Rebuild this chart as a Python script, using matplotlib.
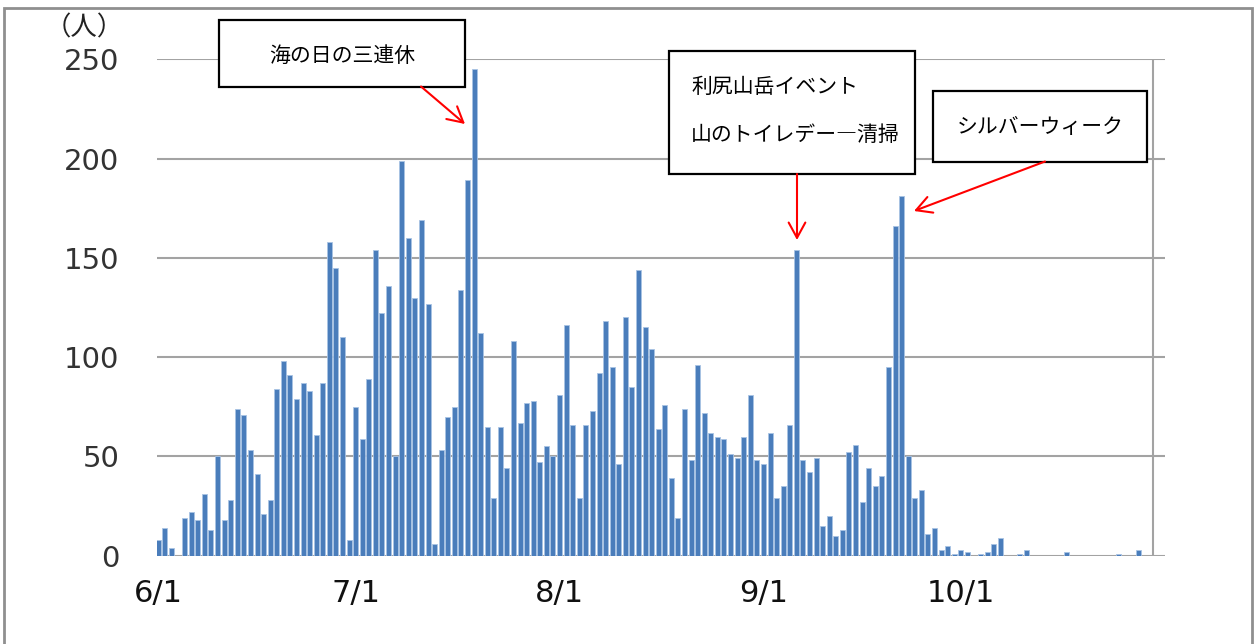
import matplotlib
matplotlib.use("Agg")
import matplotlib.pyplot as plt
from matplotlib.patches import Rectangle
import numpy as np
import pandas as pd

# ---------------- data ----------------
start_date = "2015-06-01"
june = [8, 14, 4, 0, 19, 22, 18, 31, 13, 50, 18, 28, 74, 71, 53, 41, 21, 28, 84, 98,
        91, 79, 87, 83, 61, 87, 158, 145, 110, 8]
july = [75, 59, 89, 154, 122, 136, 50, 199, 160, 130, 169, 127, 6, 53, 70, 75, 134, 189,
        245, 112, 65, 29, 65, 44, 108, 67, 77, 78, 47, 55, 50]
august = [81, 116, 66, 29, 66, 73, 92, 118, 95, 46, 120, 85, 144, 115, 104, 64, 76, 39,
          19, 74, 48, 96, 72, 62, 60, 59, 51, 49, 60, 81, 48]
september = [46, 62, 29, 35, 66, 154, 48, 42, 49, 15, 20, 10, 13, 52, 56, 27, 44, 35, 40,
             95, 166, 181, 50, 29, 33, 11, 14, 3, 5, 1]
october = [3, 2, 0, 1, 2, 6, 9, 0, 0, 1, 3, 0, 0, 0, 0, 0, 2, 0, 0, 0, 0, 0, 0, 0, 1, 0,
           0, 3, 0, 0, 0]
values = june + july + august + september + october
tick_labels = ["6/1", "7/1", "8/1", "9/1", "10/1"]
yticks = [0, 50, 100, 150, 200, 250]
unit_label = "（人）"
annot1 = "海の日の三連休"
annot2 = ["利尻山岳イベント", "山のトイレデー―清掃"]
annot3 = "シルバーウィーク"

# ---------------- figure ----------------
W, H = 1256, 644
fig = plt.figure(figsize=(W / 100, H / 100), dpi=100)
fig.patch.set_facecolor("white")

def fx(px):
    return px / W

def fy(py):
    return 1 - py / H

ax_left, ax_right, ax_top, ax_bot = 156.7, 1165, 59.3, 555.7
ax = fig.add_axes([fx(ax_left), fy(ax_bot), fx(ax_right) - fx(ax_left), fy(ax_top) - fy(ax_bot)])

dates = pd.date_range(start_date, periods=len(values), freq="D")
idx = np.arange(len(values))
ax.bar(idx, values, width=0.76, color="#4a7dbb", edgecolor="#a8c3e4", linewidth=0.6, zorder=3)

ax.set_xlim(-0.25, 153.05)
ax.set_ylim(0, 250)
ax.set_yticks(yticks)
ax.grid(axis="y", color="#a3a3a3", linewidth=1.5, zorder=1)
ax.set_axisbelow(True)
for s in ax.spines.values():
    s.set_visible(False)
ax.axvline(151.25, color="#a3a3a3", linewidth=1.5, zorder=1)

tick_pos = [int(np.where(dates.strftime("%-m/%-d") == t)[0][0]) for t in tick_labels]
ax.set_xticks(tick_pos)
ax.set_xticklabels(tick_labels, fontsize=22, family="DejaVu Sans", color="#111111")
ax.tick_params(axis="x", length=0, pad=17)
ax.tick_params(axis="y", length=0, pad=27, labelsize=21, labelcolor="#333333")

cjk = ["Noto Sans CJK JP", "DejaVu Sans"]

fig.text(fx(84), fy(28), unit_label, ha="center", va="center", fontsize=19,
         family=cjk, color="#222222")

def box(x0, y0, x1, y1):
    r = Rectangle((fx(x0), fy(y1)), fx(x1) - fx(x0), fy(y0) - fy(y1), transform=fig.transFigure,
                  facecolor="white", edgecolor="black", linewidth=1.6, zorder=5)
    fig.patches.append(r)

def arrow(x0, y0, x1, y1):
    fig.add_artist(matplotlib.patches.FancyArrowPatch(
        (fx(x0), fy(y0)), (fx(x1), fy(y1)), transform=fig.transFigure,
        arrowstyle="->,head_length=11,head_width=6", color="#ff0000", linewidth=1.5, zorder=6,
        shrinkA=0, shrinkB=0))

# annotation 1
box(219, 20, 465, 86.5)
fig.text(fx(342), fy(56), annot1, ha="center", va="center", fontsize=15, family=cjk, zorder=7)
arrow(421, 86.5, 465, 124)

# annotation 2
box(669, 51, 915, 174)
fig.text(fx(691), fy(87), annot2[0], ha="left", va="center", fontsize=15, family=cjk, zorder=7)
fig.text(fx(691), fy(135), annot2[1], ha="left", va="center", fontsize=15, family=cjk, zorder=7)
arrow(797, 174, 797, 240)

# annotation 3
box(933, 91.5, 1147, 161.5)
fig.text(fx(1040), fy(127), annot3, ha="center", va="center", fontsize=15, family=cjk, zorder=7)
arrow(1045, 161.5, 914, 211)

# outer border
border = Rectangle((fx(4), fy(660)), fx(1252) - fx(4), fy(8) - fy(660), transform=fig.transFigure,
                   facecolor="none", edgecolor="#8f8f8f", linewidth=2, zorder=4)
fig.patches.append(border)

fig.savefig("out.png", dpi=100)
